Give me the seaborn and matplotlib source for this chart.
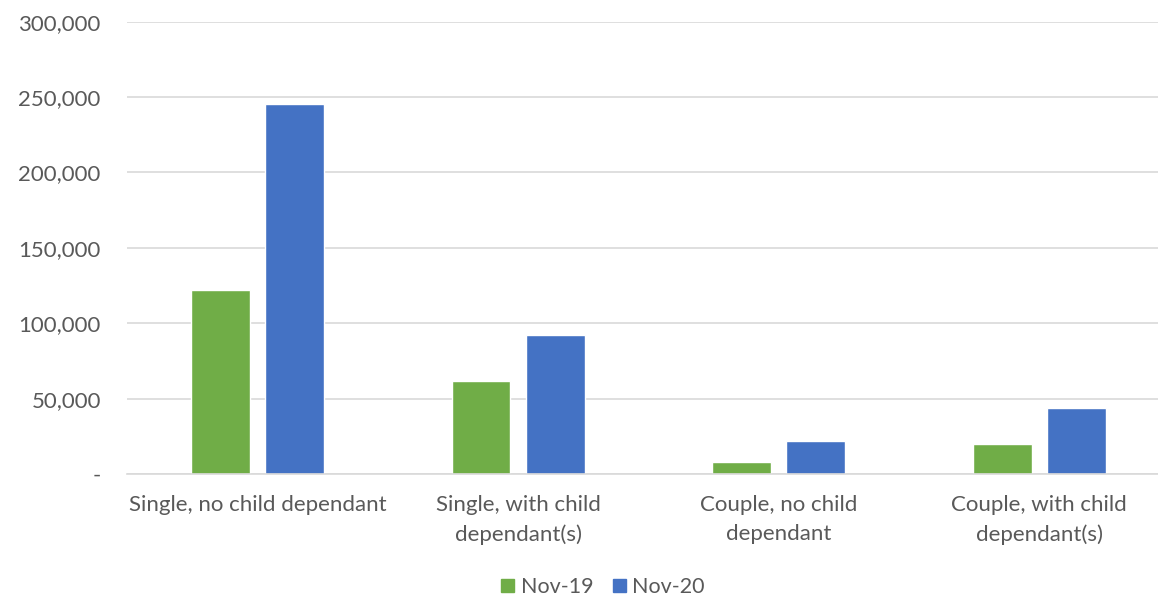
import matplotlib
matplotlib.use("Agg")
import matplotlib.pyplot as plt
import matplotlib.ticker as mticker
from matplotlib.patches import Patch
import seaborn as sns
import pandas as pd

categories = ["Single, no child dependant", "Single, with child\ndependant(s)",
              "Couple, no child\ndependant", "Couple, with child\ndependant(s)"]
series_names = ["Nov-19", "Nov-20"]
nov19 = [122000, 62000, 8000, 20000]
nov20 = [245500, 92500, 22000, 44000]
colors = ["#70AD47", "#4472C4"]
yticks = [0, 50000, 100000, 150000, 200000, 250000, 300000]

df = pd.DataFrame({
    "category": categories * 2,
    "series": [series_names[0]] * 4 + [series_names[1]] * 4,
    "value": nov19 + nov20,
})

sns.set_theme(style="white")
plt.rcParams["font.family"] = ["Lato", "DejaVu Sans"]
text_color = "#595959"

fig = plt.figure(figsize=(11.58, 5.98), dpi=100)
W, H = 1158, 598
left, right, top, bottom = 127.2, 1169.6, 21.6, 474.0
ax = fig.add_axes([left / W, 1 - bottom / H, (right - left) / W, (bottom - top) / H])

sns.barplot(data=df, x="category", y="value", hue="series", palette=colors,
            width=0.57, gap=0.21, ax=ax, legend=False, saturation=1)

ax.set_xlim(-0.5, 3.5)
ax.set_ylim(0, 300000)
ax.set_yticks(yticks)
ax.yaxis.set_major_formatter(mticker.FuncFormatter(lambda v, p: "-" if v == 0 else f"{int(v):,}"))
ax.grid(axis="y", color="#D9D9D9", linewidth=1.2)
ax.set_axisbelow(True)
for s in ["top", "right", "left"]:
    ax.spines[s].set_visible(False)
ax.spines["bottom"].set_color("#D9D9D9")
ax.spines["bottom"].set_linewidth(1.2)
ax.tick_params(axis="y", length=0, pad=19, labelsize=16, labelcolor=text_color)
ax.tick_params(axis="x", length=0, pad=15, labelsize=16, labelcolor=text_color)
for lab in ax.get_xticklabels():
    lab.set_linespacing(1.55)
ax.set_xlabel("")
ax.set_ylabel("")

handles = [Patch(facecolor=c, edgecolor=c) for c in colors]
fig.legend(handles, series_names, loc="center", bbox_to_anchor=(603 / W, 1 - 587 / H),
           ncol=2, frameon=False, fontsize=15.5, labelcolor=text_color,
           handlelength=0.6, handleheight=0.6, handletextpad=0.3, columnspacing=0.9)

fig.savefig("out.png", dpi=100)
